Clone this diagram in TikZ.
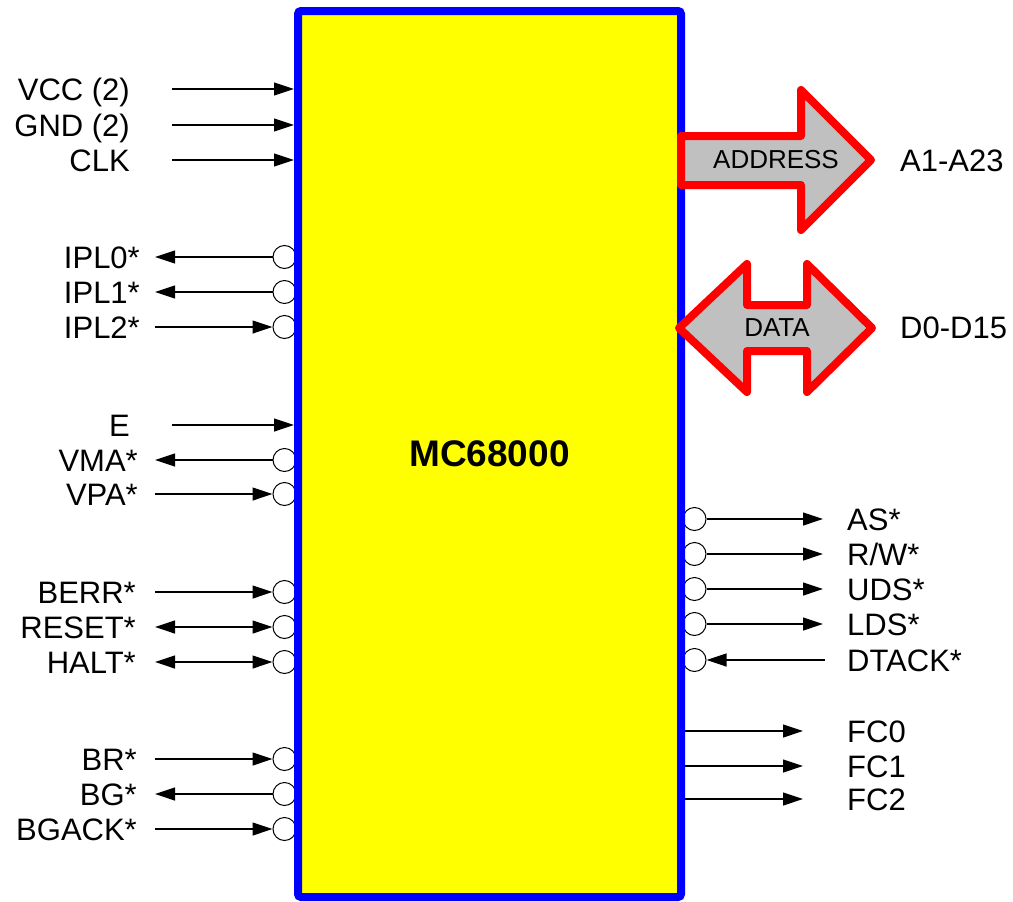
\documentclass[tikz,border=0pt]{standalone}
\usepackage{fontspec}
\setmainfont{Liberation Sans}
\usetikzlibrary{arrows.meta}
\pgfdeclarelayer{back}
\pgfsetlayers{back,main}
\definecolor{busgray}{HTML}{C0C0C0}
\definecolor{chipyellow}{HTML}{FFFF00}
\definecolor{chipblue}{HTML}{0000FF}
\definecolor{busred}{HTML}{FF0000}
\begin{document}
\begin{tikzpicture}[x=1pt,y=-1pt,
  lbl/.style={inner sep=0pt, font=\fontsize{31}{37}\selectfont},
  pin/.style={circle, draw=black, line width=1pt, fill=white, inner sep=0pt, minimum size=23pt},
  wire/.style={line width=1.2pt},
  tipend/.style={-{Triangle[length=20pt,width=13pt]}},
  tipboth/.style={{Triangle[length=20pt,width=13pt]}-{Triangle[length=20pt,width=13pt]}},
  bus/.style={draw=busred, line width=8pt, fill=busgray, line join=round},
  buslbl/.style={inner sep=0pt, font=\fontsize{26}{30}\selectfont},
  chipbox/.style={draw=chipblue, fill=chipyellow, line width=8pt, rounded corners=3pt, inner sep=0pt,
    minimum width=383pt, minimum height=886pt, font=\bfseries\fontsize{37}{42}\selectfont}
]
\useasboundingbox (0,0) rectangle (1013,902);
\node[chipbox] (chip) at (489.5,454) {MC68000};

\begin{pgfonlayer}{back}
% plain inputs on the left
\foreach \n/\y/\t in {vcc/89/VCC (2), gnd/125/GND (2), clk/160/CLK, e/425/E} {
  \node[lbl, anchor=base east] (l\n) at (130,\y+11) {\t};
  \coordinate (s\n) at (172,\y);
  \draw[wire,tipend] (s\n) -- (s\n -| chip.west);
}
% outputs with circles (left)
\foreach \n/\y/\t/\lx in {ipl0/257/IPL0*/140, ipl1/292/IPL1*/140, vma/460/VMA*/138, bg/794/BG*/137} {
  \node[pin] (c\n) at (284.5,\y) {};
  \node[lbl, anchor=base east] (l\n) at (\lx,\y+11) {\t};
  \coordinate (s\n) at (155,\y);
  \draw[wire,tipend] (c\n) -- (s\n);
}
% inputs with circles (left)
\foreach \n/\y/\t/\lx in {ipl2/327/IPL2*/140, vpa/494/VPA*/138, berr/592/BERR*/136, br/759/BR*/137, bgack/829/BGACK*/137} {
  \node[pin] (c\n) at (284.5,\y) {};
  \node[lbl, anchor=base east] (l\n) at (\lx,\y+11) {\t};
  \coordinate (s\n) at (155,\y);
  \draw[wire,tipend] (s\n) -- (c\n);
}
% bidirectional (left)
\foreach \n/\y/\t/\lx in {reset/627/RESET*/136, halt/662/HALT*/136} {
  \node[pin] (c\n) at (284.5,\y) {};
  \node[lbl, anchor=base east] (l\n) at (\lx,\y+11) {\t};
  \coordinate (s\n) at (155,\y);
  \draw[wire,tipboth] (s\n) -- (c\n);
}
% outputs with circles (right)
\node[pin] (cas) at (694.5,519) {};
\node[pin] (crw) at (694.5,554) {};
\node[pin] (cuds) at (694.5,589) {};
\node[pin] (clds) at (694.5,624) {};
\node[pin] (cdtack) at (694.5,660) {};
\coordinate (eas) at (823,519);
\coordinate (erw) at (823,554);
\coordinate (euds) at (823,589);
\coordinate (elds) at (823,624);
\coordinate (sdtack) at (825,660);
\draw[wire,tipend] (cas) -- (eas);
\draw[wire,tipend] (crw) -- (erw);
\draw[wire,tipend] (cuds) -- (euds);
\draw[wire,tipend] (clds) -- (elds);
\draw[wire,tipend] (sdtack) -- (cdtack);
% function codes
\coordinate (efc0) at (803,731);
\coordinate (efc1) at (803,766);
\coordinate (efc2) at (803,799);
\draw[wire,tipend] (efc0 -| chip.east) -- (efc0);
\draw[wire,tipend] (efc1 -| chip.east) -- (efc1);
\draw[wire,tipend] (efc2 -| chip.east) -- (efc2);
\end{pgfonlayer}

\node[lbl, anchor=base west] (las) at (847,530) {AS*};
\node[lbl, anchor=base west] (lrw) at (847,565) {R/W*};
\node[lbl, anchor=base west] (luds) at (847,600) {UDS*};
\node[lbl, anchor=base west] (llds) at (847,635) {LDS*};
\node[lbl, anchor=base west] (ldtack) at (847,671) {DTACK*};
\node[lbl, anchor=base west] (lfc0) at (847,742) {FC0};
\node[lbl, anchor=base west] (lfc1) at (847,777) {FC1};
\node[lbl, anchor=base west] (lfc2) at (847,810) {FC2};

% buses
\draw[bus] (681,136) -- (801,136) -- (801,90) -- (871,160) -- (801,230) -- (801,185) -- (681,185) -- cycle;
\node[buslbl] (laddr) at (776,160) {ADDRESS};
\node[lbl, anchor=base west] (laddrbus) at (900,171) {A1-A23};

\draw[bus] (679,328) -- (747,264) -- (747,305) -- (807,305) -- (807,264) -- (872,328)
  -- (807,392) -- (807,351) -- (747,351) -- (747,392) -- cycle;
\node[buslbl] (ldata) at (777,328) {DATA};
\node[lbl, anchor=base west] (ldatabus) at (900,338) {D0-D15};
\end{tikzpicture}
\end{document}
